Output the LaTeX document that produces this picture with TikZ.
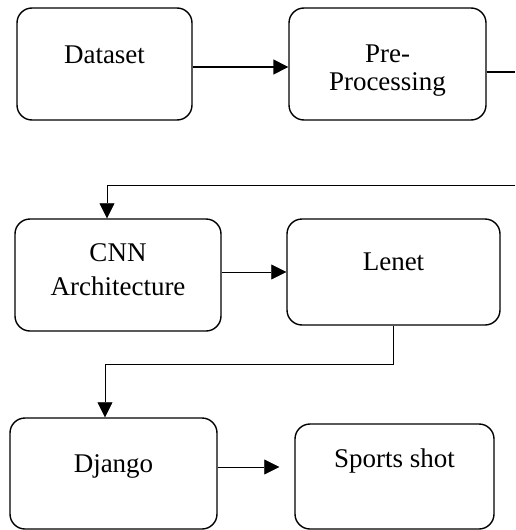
\documentclass[tikz,border=0pt]{standalone}
\usepackage{fontspec}
\setmainfont{Liberation Serif}
\usetikzlibrary{arrows.meta}

\begin{document}
\begin{tikzpicture}[x=1pt,y=-1pt,
    box/.style={draw,line width=1.4pt,rounded corners=15pt,align=center,
        inner sep=0pt,font=\fontsize{27}{28}\selectfont},
    textpos/.style 2 args={text height=#1,text depth=#2},
    conn/.style={line width=0.7pt,-{Triangle[length=15pt,width=15pt]}},
    thickconn/.style={line width=1.4pt}]
    \useasboundingbox (0,0) rectangle (515,530);
    % boxes
    \node[box,minimum width=175pt,minimum height=112pt,textpos={18pt}{20pt}] (dataset) at (104.5,64) {Dataset};
    \node[box,minimum width=197pt,minimum height=112pt,textpos={56pt}{4pt}] (prep) at (387.5,64) {Pre-\\Processing};
    \node[box,minimum width=206pt,minimum height=112pt,textpos={46pt}{6pt}] (cnn) at (118,275) {CNN\\[6pt]Architecture};
    \node[box,minimum width=213pt,minimum height=106pt,textpos={18pt}{22pt}] (lenet) at (393.5,272) {Lenet};
    \node[box,minimum width=207pt,minimum height=111pt,textpos={18pt}{21pt}] (django) at (113.5,473.5) {Django};
    \node[box,minimum width=199pt,minimum height=105pt,textpos={18pt}{37pt}] (sports) at (394.5,476.5) {Sports shot};
    % free ends
    \coordinate (prepout) at (515,72);
    \coordinate (loopin) at (515,185);
    \coordinate (sportsin) at ([xshift=-15pt,yshift=9.5pt]sports.west);
    % connectors
    \draw[conn,thickconn] ([yshift=-3pt]dataset.east) -- ([yshift=-3pt]prep.west);
    \draw[thickconn] ([yshift=-8pt]prep.east) -- (prepout);
    \draw[conn] (loopin) -| ([xshift=-11pt]cnn.north);
    \draw[conn] (cnn.east |- lenet.west) -- (lenet.west);
    \draw[conn] (lenet.south) -- ++(0,39) -| ([xshift=-8.5pt]django.north);
    \draw[conn] ([yshift=6.5pt]django.east) -- (sportsin);
\end{tikzpicture}
\end{document}
